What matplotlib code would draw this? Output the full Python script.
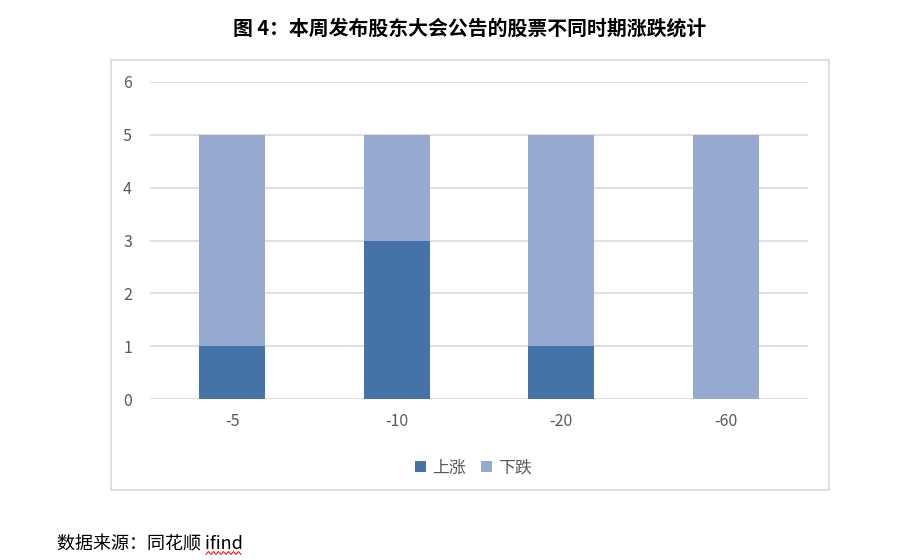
import numpy as np
import matplotlib.pyplot as plt
from matplotlib.patches import Rectangle

plt.rcParams['font.family'] = ['Noto Sans CJK SC', 'DejaVu Sans']

categories = ['-5', '-10', '-20', '-60']
up_counts = [1, 3, 1, 0]
down_counts = [4, 2, 4, 5]
series_names = ['上涨', '下跌']
title = '图 4：本周发布股东大会公告的股票不同时期涨跌统计'
source = '数据来源：同花顺 ifind'

c_up = '#4673A7'
c_down = '#95A9D1'
grey = '#D9D9D9'

fig = plt.figure(figsize=(9.2, 5.6), dpi=100)

# outer chart frame
fig.patches.append(Rectangle((111 / 920, 1 - 490 / 560), 718 / 920, 430 / 560,
                             transform=fig.transFigure, fill=False,
                             edgecolor=grey, linewidth=1.2))

ax = fig.add_axes([150 / 920, 1 - 399 / 560, 658 / 920, 317 / 560])
x = np.arange(len(categories))
ax.bar(x, up_counts, width=0.4, color=c_up, label=series_names[0], zorder=3)
ax.bar(x, down_counts, width=0.4, bottom=up_counts, color=c_down,
       label=series_names[1], zorder=3)

ax.set_xlim(-0.5, len(categories) - 0.5)
ax.set_ylim(0, 6)
ax.set_yticks(range(7))
ax.set_xticks(x)
ax.set_xticklabels(categories)
ax.tick_params(length=0, colors='#595959', labelsize=11.5)
ax.tick_params(axis='y', pad=13)
ax.tick_params(axis='x', pad=10)
ax.yaxis.grid(True, color=grey, linewidth=1.2, zorder=0)
for s in ax.spines.values():
    s.set_visible(False)

ax.legend(loc='upper center', bbox_to_anchor=(0.492, -0.14), ncol=2,
          frameon=False, handlelength=0.6, handleheight=0.6,
          handletextpad=0.4, columnspacing=0.9,
          prop={'size': 12.2}, labelcolor='#595959')

fig.text(470 / 920, 1 - 28 / 560, title, ha='center', va='center',
         fontsize=14.3, fontweight='heavy')
fig.text(57 / 920, 1 - 544 / 560, source, ha='left', va='center', fontsize=13)

# red squiggle under "ifind"
wx = np.linspace(206, 241, 15)
wy = 553 + 1.5 * np.where(np.arange(15) % 2 == 0, 1, -1)
fig.add_artist(plt.Line2D(wx / 920, 1 - wy / 560, color='red', linewidth=0.7))

fig.savefig('out.png', dpi=100)
